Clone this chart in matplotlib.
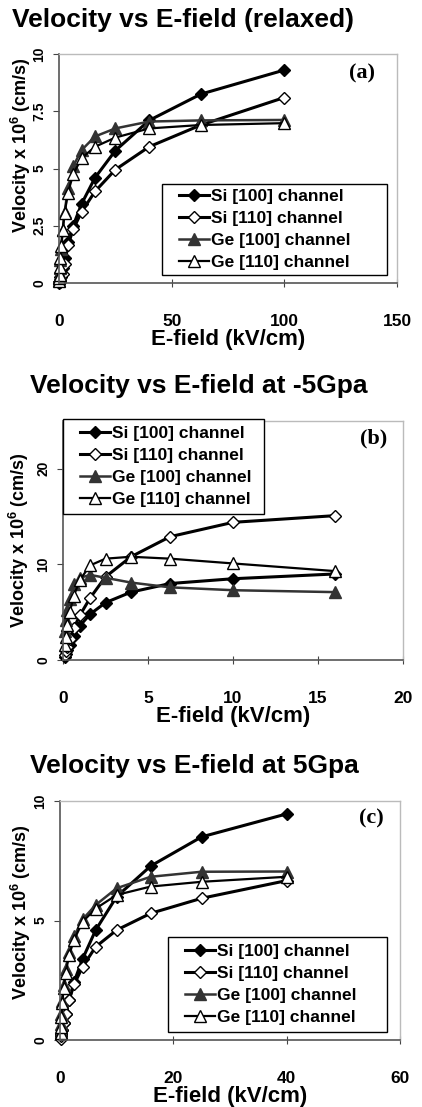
import matplotlib
matplotlib.use("Agg")
import matplotlib.pyplot as plt
from matplotlib.patches import Rectangle

plt.rcParams['font.family'] = ['Liberation Sans', 'DejaVu Sans']
plt.rcParams['font.weight'] = 'bold'
plt.rcParams['mathtext.fontset'] = 'custom'
plt.rcParams['mathtext.rm'] = 'Liberation Sans:bold'
plt.rcParams['mathtext.default'] = 'rm'

labels = ["Si [100] channel", "Si [110] channel", "Ge [100] channel", "Ge [110] channel"]

# (a) relaxed
field_a = [0.1, 0.16, 0.25, 0.4, 0.63, 1, 1.6, 2.5, 4, 6.3, 10, 16, 25, 40, 63, 100]
si100_a = [0.03, 0.06, 0.1, 0.15, 0.25, 0.4, 0.65, 1.1, 1.8, 2.5, 3.45, 4.6, 5.78, 7.1, 8.25, 9.3]
si110_a = [0.02, 0.04, 0.06, 0.1, 0.15, 0.25, 0.4, 0.85, 1.65, 2.35, 3.1, 4.0, 4.95, 5.95, 6.9, 8.1]
ge100_a = [0.15, 0.25, 0.4, 0.65, 1.0, 1.5, 2.3, 3.1, 4.15, 5.1, 5.8, 6.4, 6.75, 7.05, 7.1, 7.12]
ge110_a = [0.1, 0.2, 0.35, 0.7, 1.1, 1.6, 2.3, 3.05, 3.95, 4.75, 5.45, 5.95, 6.35, 6.75, 6.9, 6.98]

# (b) -5 GPa
field_b = [0.1, 0.16, 0.25, 0.4, 0.63, 1, 1.6, 2.5, 4, 6.3, 10, 16]
si100_b = [0.3, 0.6, 1.0, 1.6, 2.5, 3.6, 4.8, 6.0, 7.1, 8.0, 8.5, 9.0]
si110_b = [0.5, 0.9, 1.4, 2.2, 3.3, 4.7, 6.5, 8.7, 10.8, 12.9, 14.4, 15.1]
ge100_b = [3.0, 4.2, 5.2, 6.4, 7.9, 8.6, 8.9, 8.6, 8.1, 7.6, 7.3, 7.1]
ge110_b = [1.6, 2.4, 3.7, 5.0, 6.7, 8.4, 9.9, 10.6, 10.8, 10.6, 10.1, 9.3]

# (c) 5 GPa
field_c = [0.1, 0.16, 0.25, 0.4, 0.63, 1, 1.6, 2.5, 4, 6.3, 10, 16, 25, 40]
si100_c = [0.1, 0.15, 0.25, 0.4, 0.7, 1.1, 1.67, 2.44, 3.4, 4.6, 6.0, 7.28, 8.5, 9.46]
si110_c = [0.05, 0.15, 0.25, 0.4, 0.7, 1.1, 1.67, 2.33, 3.07, 3.9, 4.6, 5.3, 5.93, 6.67]
ge100_c = [0.35, 0.65, 1.1, 1.65, 2.3, 2.95, 3.7, 4.35, 5.05, 5.65, 6.35, 6.83, 7.04, 7.05]
ge110_c = [0.28, 0.56, 0.98, 1.53, 2.16, 2.8, 3.55, 4.2, 4.95, 5.5, 6.07, 6.42, 6.62, 6.83]

titles = ["Velocity vs E-field (relaxed)", "Velocity vs E-field at -5Gpa",
          "Velocity vs E-field at 5Gpa"]
tags = ["(a)", "(b)", "(c)"]
xticks = [[0, 50, 100, 150], [0, 5, 10, 15, 20], [0, 20, 40, 60]]
yticks = [[0, 2.5, 5, 7.5, 10], [0, 10, 20], [0, 5, 10]]
ytick_labels = [["0", "2.5", "5", "7.5", "10"], ["0", "10", "20"], ["0", "5", "10"]]
ylims = [10, 25, 10]

W, H = 422, 1107
fig = plt.figure(figsize=(W / 100, H / 100), dpi=100)

# axes boxes in pixels: left, top, right, bottom
boxes = [(59, 54, 397, 283), (63, 421, 403, 660), (60, 801, 400, 1040)]
title_base = [27, 393, 773]
title_left = [12, 30, 30]
ylab_pos = [(-0.078, 0.603), (-0.094, 0.502), (-0.080, 0.536)]
tag_pos = [(0.896, 0.917), (0.915, 0.925), (0.915, 0.925)]
# legend boxes in pixels: left, top, right, bottom
leg_box = [(162, 184, 387, 275), (63, 419, 264, 514), (168, 937, 387, 1032)]

panels = [
    (field_a, [si100_a, si110_a, ge100_a, ge110_a]),
    (field_b, [si100_b, si110_b, ge100_b, ge110_b]),
    (field_c, [si100_c, si110_c, ge100_c, ge110_c]),
]

styles = [
    dict(color='black', lw=2.2, marker='D', ms=6.5, mfc='black', mec='black', mew=1),
    dict(color='black', lw=2.2, marker='D', ms=6.5, mfc='white', mec='black', mew=1),
    dict(color='#333333', lw=1.8, marker='^', ms=9, mfc='#333333', mec='#333333', mew=1),
    dict(color='black', lw=1.6, marker='^', ms=9, mfc='white', mec='black', mew=1),
]

for i, (x, series) in enumerate(panels):
    l, t, r, b = boxes[i]
    ax = fig.add_axes([l / W, 1 - b / H, (r - l) / W, (b - t) / H])
    for y, lab, st in zip(series, labels, styles):
        ax.plot(x, y, label=lab, clip_on=False, **st)
    ax.set_xlim(xticks[i][0], xticks[i][-1])
    ax.set_ylim(0, ylims[i])
    ax.set_xticks(xticks[i])
    ax.set_xticklabels([str(v) for v in xticks[i]], fontsize=12.5, fontweight='bold')
    ax.set_yticks(yticks[i])
    ax.set_yticklabels(ytick_labels[i], fontsize=10, fontweight='bold',
                       rotation=90, va='center')
    ax.tick_params(axis='x', direction='inout', length=6, pad=19, color='#444444')
    ax.tick_params(axis='y', direction='out', length=4, pad=5, color='#444444')
    for s in ['left', 'bottom']:
        ax.spines[s].set_color('#555555')
        ax.spines[s].set_linewidth(1.2)
    for s in ['top', 'right']:
        ax.spines[s].set_color('#bbbbbb')
        ax.spines[s].set_linewidth(1.0)
    ax.set_xlabel("E-field (kV/cm)", fontsize=16, fontweight='bold', labelpad=0)
    ax.set_ylabel(r"Velocity x 10$^{6}$ (cm/s)", fontsize=13, fontweight='bold')
    ax.yaxis.set_label_coords(*ylab_pos[i])
    ax.text(tag_pos[i][0], tag_pos[i][1], tags[i], transform=ax.transAxes,
            family='Liberation Serif', fontsize=16, fontweight='bold',
            ha='center', va='center')
    fig.text(title_left[i] / W, 1 - title_base[i] / H, titles[i], fontsize=19,
             fontweight='bold', ha='left', va='baseline')

    # legend frame drawn as its own box so its width matches the reference
    ll, lt, lr, lb = leg_box[i]
    ax.add_patch(Rectangle((ll / W, 1 - lb / H), (lr - ll) / W, (lb - lt) / H,
                           transform=fig.transFigure, facecolor='white',
                           edgecolor='black', lw=1.0, clip_on=False, zorder=4.9))
    ax.legend(loc='center left',
              bbox_to_anchor=((ll + 12) / W, 1 - (lt + lb) / 2 / H),
              bbox_transform=fig.transFigure,
              prop=dict(size=12.5, weight='bold'), frameon=False,
              handlelength=1.7, handletextpad=0.15, labelspacing=0.4,
              borderpad=0.3, borderaxespad=0)

fig.savefig("out.png", dpi=100)
